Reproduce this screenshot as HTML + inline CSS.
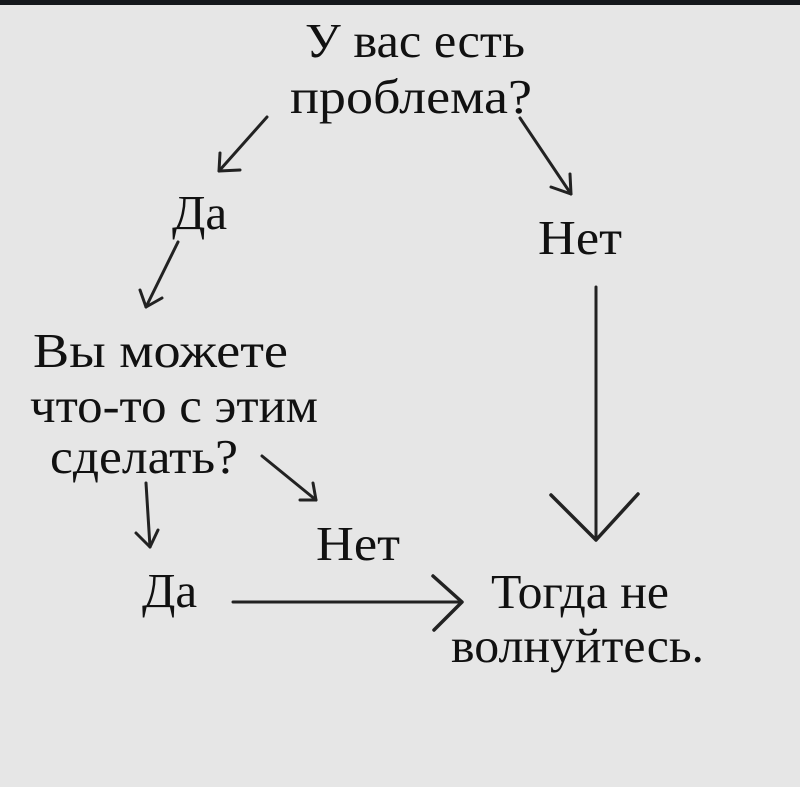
<!DOCTYPE html>
<html><head><meta charset="utf-8"><style>
html,body{margin:0;padding:0;width:800px;height:787px;overflow:hidden;background:#e6e6e6}
svg{display:block}
text{font-family:"Liberation Serif",serif;font-size:49px;fill:#111}
</style></head><body>
<svg width="800" height="787" viewBox="0 0 800 787">
<rect x="0" y="0" width="800" height="787" fill="#e6e6e6"/>
<rect x="0" y="0" width="800" height="5" fill="#15181c"/>
<g stroke="#222" stroke-width="3" fill="none" stroke-linecap="round" stroke-linejoin="round">
<line x1="267" y1="117" x2="219" y2="171"/>
<polyline points="220,153 219,171 240,170"/>
<line x1="178" y1="242" x2="146" y2="307"/>
<polyline points="140,290 146,307 162,298"/>
<line x1="520" y1="118" x2="571" y2="194"/>
<polyline points="551,187 571,194 570,174"/>
<line x1="596" y1="287" x2="596" y2="540"/>
<polyline points="551,495 596,540 638,494" stroke-width="3.5"/>
<line x1="262" y1="456" x2="316" y2="500"/>
<polyline points="300,500 316,500 313,483"/>
<line x1="146" y1="483" x2="150" y2="547"/>
<polyline points="136,533 150,547 158,530"/>
<line x1="233" y1="602" x2="462" y2="602"/>
<polyline points="433,576 462,602 434,630" stroke-width="3.5"/>
</g>
<text x="305" y="57" textLength="220" lengthAdjust="spacingAndGlyphs">У вас есть</text>
<text x="290" y="113" textLength="242" lengthAdjust="spacingAndGlyphs">проблема?</text>
<text x="172" y="229">Да</text>
<text x="538" y="254" textLength="84" lengthAdjust="spacingAndGlyphs">Нет</text>
<text x="33" y="367" textLength="255" lengthAdjust="spacingAndGlyphs">Вы можете</text>
<text x="30" y="422" textLength="288" lengthAdjust="spacingAndGlyphs">что-то с этим</text>
<text x="50" y="473" textLength="188" lengthAdjust="spacingAndGlyphs">сделать?</text>
<text x="316" y="560" textLength="84" lengthAdjust="spacingAndGlyphs">Нет</text>
<text x="142" y="607">Да</text>
<text x="491" y="608" textLength="178" lengthAdjust="spacingAndGlyphs">Тогда не</text>
<text x="451" y="662" textLength="253" lengthAdjust="spacingAndGlyphs">волнуйтесь.</text>
</svg>
</body></html>
